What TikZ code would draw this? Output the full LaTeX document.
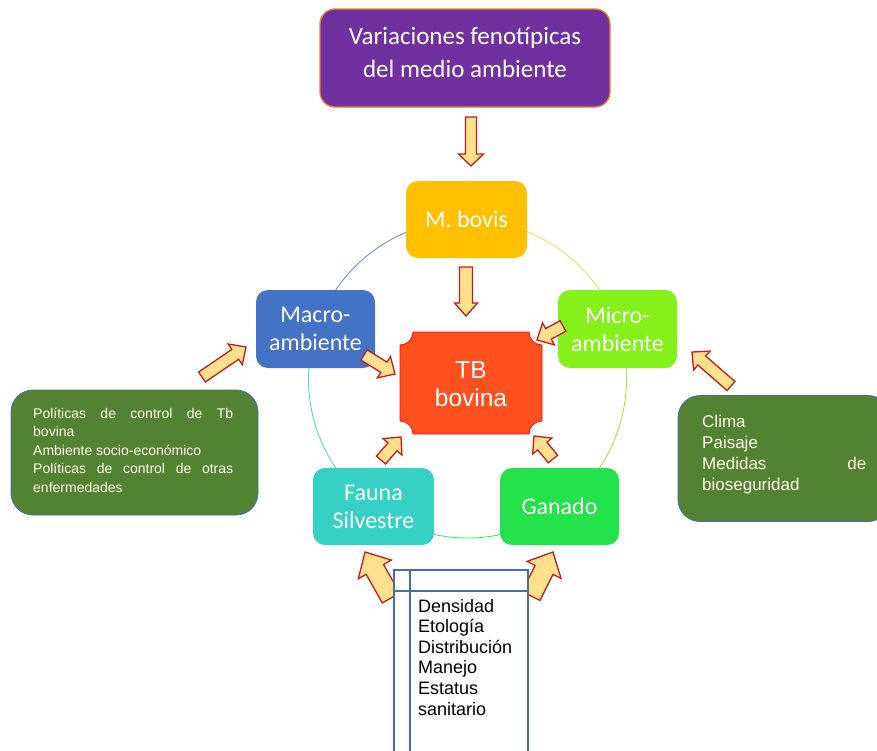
\documentclass[tikz,border=0pt]{standalone}
\usepackage{fontspec}
\setmainfont{Carlito}
\newfontfamily\arialf{Liberation Sans}
\usetikzlibrary{calc}
\definecolor{cpurple}{RGB}{112,48,160}
\definecolor{corange}{RGB}{237,125,49}
\definecolor{cyellow}{RGB}{255,192,0}
\definecolor{cblue}{RGB}{68,114,196}
\definecolor{clime}{RGB}{134,240,26}
\definecolor{cteal}{RGB}{54,209,196}
\definecolor{cgreen}{RGB}{36,226,75}
\definecolor{ctb}{RGB}{255,80,32}
\definecolor{ctbedge}{RGB}{255,20,10}
\definecolor{dgreen}{RGB}{84,130,53}
\definecolor{gborder}{RGB}{65,113,156}
\definecolor{cream}{RGB}{255,250,232}
\definecolor{arrfill}{RGB}{255,224,140}
\definecolor{arrdraw}{RGB}{192,30,30}
\definecolor{tblue}{RGB}{74,110,160}
\definecolor{ringblue}{RGB}{110,145,210}
\definecolor{ringyellow}{RGB}{255,215,110}
\definecolor{ringlime}{RGB}{160,230,90}
\definecolor{ringgreen}{RGB}{70,230,100}
\definecolor{ringteal}{RGB}{90,215,205}
\newcommand\blockarr[5]{%
\draw[barr] let \p1=($(#2)-(#1)$), \n1={atan2(\y1,\x1)}, \n2={veclen(\x1,\y1)-#5} in
 ($(#1)+(\n1+90:#3)$) -- ($(#1)+(\n1:\n2)+(\n1+90:#3)$) -- ($(#1)+(\n1:\n2)+(\n1+90:#4)$)
 -- (#2) -- ($(#1)+(\n1:\n2)+(\n1-90:#4)$) -- ($(#1)+(\n1:\n2)+(\n1-90:#3)$)
 -- ($(#1)+(\n1-90:#3)$) -- cycle;}
\begin{document}
\begin{tikzpicture}[x=1pt,y=1pt,
 cbox/.style={rounded corners=12pt, inner sep=0pt, text=white, align=center, font=\fontsize{24}{28}\selectfont},
 barr/.style={fill=arrfill, draw=arrdraw, line width=1.3pt, line join=miter},
 ring/.style={line width=0.9pt},
 gbox/.style={fill=dgreen, draw=gborder, line width=0.8pt, rounded corners=22pt},
 gtext/.style={text=cream, align=left, inner sep=0pt},
 tline/.style={draw=tblue, line width=1.3pt}]
\useasboundingbox (0,0) rectangle (877,-750);
\clip (0,0) rectangle (877,-750);
% ring
\coordinate (cc) at (467.5,-379);
\draw[ring, ringblue] ($(cc)+(162:159)$) arc[start angle=162, end angle=90, radius=159pt];
\draw[ring, ringyellow] ($(cc)+(90:159)$) arc[start angle=90, end angle=18, radius=159pt];
\draw[ring, ringlime] ($(cc)+(18:159)$) arc[start angle=18, end angle=-54, radius=159pt];
\draw[ring, ringgreen] ($(cc)+(-54:159)$) arc[start angle=-54, end angle=-126, radius=159pt];
\draw[ring, ringteal] ($(cc)+(-126:159)$) arc[start angle=-126, end angle=-198, radius=159pt];
% boxes
\node[cbox, fill=cpurple, draw=corange, line width=1.3pt, rounded corners=15pt,
 minimum width=290pt, minimum height=98pt] (var) at (465,-58) {};
\node[inner sep=0pt, text=white, align=center, font=\fontsize{25}{33}\selectfont, anchor=base] (vartext) at (465,-77)
 {Variaciones fenotípicas\\del medio ambiente};
\node[cbox, fill=cyellow, minimum width=121pt, minimum height=77pt] (mb) at (466.5,-219.5) {M. bovis};
\node[cbox, fill=cblue, minimum width=119pt, minimum height=78pt] (macro) at (315.5,-329) {Macro-\\ambiente};
\node[cbox, fill=clime, minimum width=119pt, minimum height=78pt] (micro) at (617.5,-329) {Micro-\\ambiente};
\node[cbox, fill=cteal, minimum width=121pt, minimum height=77pt] (fauna) at (373.5,-506.5) {Fauna\\Silvestre};
\node[cbox, fill=cgreen, minimum width=119pt, minimum height=77pt] (ganado) at (559.5,-506.5) {Ganado};
% TB bovina plaque
\filldraw[fill=ctb, draw=ctbedge, line width=0.8pt]
 (413,-332) -- (529,-332) arc[start angle=180, end angle=270, radius=13pt]
 -- (542,-421) arc[start angle=90, end angle=180, radius=13pt]
 -- (413,-434) arc[start angle=0, end angle=90, radius=13pt]
 -- (400,-345) arc[start angle=270, end angle=360, radius=13pt] -- cycle;
\node[inner sep=0pt, text=white, align=center, font=\arialf\fontsize{24.5}{28.5}\selectfont] (tb) at (471,-384) {TB\\bovina};
% side boxes
\node[gbox, minimum width=247pt, minimum height=125pt] (lbox) at (134.5,-452.5) {};
\node[gtext, anchor=base west, font=\arialf\fontsize{14}{18.5}\selectfont] (ltext) at (33,-492)
 {\makebox[200pt][s]{Políticas de control de Tb}\\bovina\\Ambiente socio-económico\\\makebox[200pt][s]{Políticas de control de otras}\\enfermedades};
\node[gbox, minimum width=212pt, minimum height=126pt] (rbox) at (784,-458.5) {};
\node[gtext, anchor=base west, font=\arialf\fontsize{17}{21}\selectfont] (rtext) at (702,-490)
 {Clima\\Paisaje\\\makebox[164pt][s]{Medidas de}\\bioseguridad};
% block arrows
\coordinate (a1s) at (471,-117); \coordinate (a1e) at (471,-166);
\coordinate (a2s) at (466,-267); \coordinate (a2e) at (466,-316);
\coordinate (a3s) at (364,-355); \coordinate (a3e) at (395,-374);
\coordinate (a4s) at (563,-326); \coordinate (a4e) at (537,-340);
\coordinate (a5s) at (381,-460); \coordinate (a5e) at (401,-437);
\coordinate (a6s) at (553,-459); \coordinate (a6e) at (534,-436);
\coordinate (a7s) at (202,-377); \coordinate (a7e) at (246,-347);
\coordinate (a8s) at (731,-386); \coordinate (a8e) at (692,-352);
\coordinate (a9s) at (391,-598); \coordinate (a9e) at (365,-552);
\coordinate (a10s) at (531,-596); \coordinate (a10e) at (553,-552);
\blockarr{a1s}{a1e}{5.5}{12.5}{12}
\blockarr{a2s}{a2e}{6.5}{11.5}{13}
\blockarr{a3s}{a3e}{6}{12.5}{13}
\blockarr{a4s}{a4e}{6}{12.5}{13}
\blockarr{a5s}{a5e}{6}{12.5}{13}
\blockarr{a6s}{a6e}{6}{12.5}{13}
\blockarr{a7s}{a7e}{6}{12.5}{13}
\blockarr{a8s}{a8e}{6}{12.5}{13}
\blockarr{a9s}{a9e}{10}{19}{20}
\blockarr{a10s}{a10e}{10}{19}{20}
% table
\filldraw[tline, fill=white] (394,-570) rectangle (528,-760);
\draw[tline] (410,-570) -- (410,-760);
\draw[tline] (394,-591) -- (528,-591);
\node[anchor=base west, inner sep=0pt, align=left, font=\arialf\fontsize{18}{20.6}\selectfont] (ttext) at (418,-715)
 {Densidad\\Etología\\Distribución\\Manejo\\Estatus\\sanitario};
\end{tikzpicture}
\end{document}
